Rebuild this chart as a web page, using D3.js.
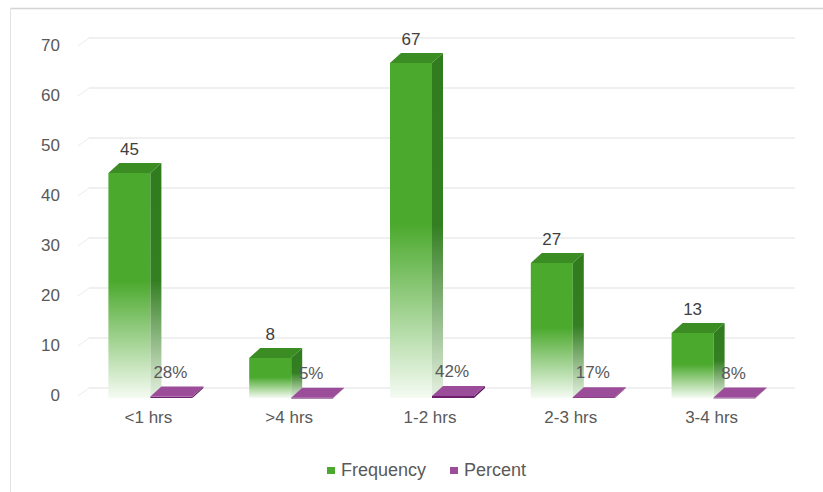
<!DOCTYPE html>
<html>
<head>
<meta charset="utf-8">
<script src="https://cdn.jsdelivr.net/npm/d3@7/dist/d3.min.js"></script>
<style>
  html, body { margin: 0; padding: 0; background: #ffffff; }
  svg { display: block; font-family: "Liberation Sans", Arial, sans-serif; }
</style>
</head>
<body>
<svg id="chart" width="823" height="492"></svg>
<script>
// Daily usage by time band
const categories = ["<1 hrs", ">4 hrs", "1-2 hrs", "2-3 hrs", "3-4 hrs"];
const frequency = [45, 8, 67, 27, 13];
const percent = [0.28, 0.05, 0.42, 0.17, 0.08];
const percentLabels = ["28%", "5%", "42%", "17%", "8%"];
const series = ["Frequency", "Percent"];
const yTicks = [0, 10, 20, 30, 40, 50, 60, 70];

const svg = d3.select("#chart");
const W = 823, H = 492;

// 3D depth offset for the back wall
const DX = 11, DY = -10;

const x = d3.scaleBand().domain(categories).range([80, 784]).padding(0);
const xs = d3.scaleBand().domain(series).range([0, x.bandwidth()])
  .paddingInner(0).paddingOuter(0.676);
const y = d3.scaleLinear().domain([0, 70]).range([398, 48]);

// gradients for the green columns
const defs = svg.append("defs");
const gFront = defs.append("linearGradient").attr("id", "gFront")
  .attr("x1", 0).attr("y1", 0).attr("x2", 0).attr("y2", 1);
gFront.append("stop").attr("offset", 0).attr("stop-color", "#4ba92d");
gFront.append("stop").attr("offset", 0.48).attr("stop-color", "#4ba92d");
gFront.append("stop").attr("offset", 1).attr("stop-color", "#f5fbf3");
const gSide = defs.append("linearGradient").attr("id", "gSide")
  .attr("x1", 0).attr("y1", 0).attr("x2", 0).attr("y2", 1);
gSide.append("stop").attr("offset", 0).attr("stop-color", "#2f7b1e");
gSide.append("stop").attr("offset", 0.5).attr("stop-color", "#347f22");
gSide.append("stop").attr("offset", 1).attr("stop-color", "#e6f1e2");

// chart frame
svg.append("line").attr("x1", 10).attr("x2", W).attr("y1", 8.5).attr("y2", 8.5)
  .attr("stroke", "#d4d4d4").attr("stroke-width", 1.5);
svg.append("line").attr("x1", 10.5).attr("x2", 10.5).attr("y1", 8).attr("y2", H)
  .attr("stroke", "#e2e2e2").attr("stroke-width", 1);

// back wall gridlines + side wall diagonals
const x0 = x.range()[0], x1 = x.range()[1];
const grid = svg.append("g");
grid.selectAll("line.back").data(yTicks).join("line").attr("class", "back")
  .attr("x1", x0 + DX - 2).attr("x2", x1 + DX)
  .attr("y1", d => y(d) + DY).attr("y2", d => y(d) + DY)
  .attr("stroke", "#ebebeb").attr("stroke-width", 1.5);
grid.selectAll("line.side").data(yTicks).join("line").attr("class", "side")
  .attr("x1", x0 - 2).attr("x2", x0 + DX - 2)
  .attr("y1", d => y(d) - 2).attr("y2", d => y(d) + DY)
  .attr("stroke", "#ececec").attr("stroke-width", 1);

// y axis labels
const yAxis = svg.append("g").attr("transform", "translate(60,-3)")
  .call(d3.axisLeft(y).tickValues(yTicks).tickSize(0).tickPadding(0));
yAxis.select(".domain").remove();
yAxis.selectAll("text").attr("fill", "#595959").style("font-size", "17px")
  .style("font-family", "'Liberation Sans', Arial, sans-serif");

// x axis labels
const xAxis = svg.append("g").attr("transform", "translate(-2,411)")
  .call(d3.axisBottom(x).tickSize(0).tickPadding(0));
xAxis.select(".domain").remove();
xAxis.selectAll("text").attr("fill", "#595959").style("font-size", "17px")
  .style("font-family", "'Liberation Sans', Arial, sans-serif");

// 3D column helper
function column(g, left, w, v, colors) {
  const yt = y(v), yb = y(0);
  const pts = a => a.map(p => p.join(",")).join(" ");
  g.append("rect").attr("x", left).attr("y", yt).attr("width", w)
    .attr("height", Math.max(yb - yt, 0.8)).attr("fill", colors.front);
  g.append("polygon").attr("points", pts([[left + w, yt], [left + w + DX, yt + DY],
    [left + w + DX, yb + DY], [left + w, yb]])).attr("fill", colors.side);
  g.append("polygon").attr("points", pts([[left, yt], [left + w, yt],
    [left + w + DX, yt + DY], [left + DX, yt + DY]])).attr("fill", colors.top);
}

const bars = svg.append("g");
categories.forEach((c, i) => {
  column(bars, x(c) + xs("Frequency"), xs.bandwidth(), frequency[i],
    { front: "url(#gFront)", side: "url(#gSide)", top: "#3c8c24" });
});
categories.forEach((c, i) => {
  column(bars, x(c) + xs("Percent"), xs.bandwidth(), percent[i],
    { front: "#6e1f6c", side: "#5a1658", top: "#9b4d9a" });
});

// percent value labels
svg.append("g").selectAll("text").data(categories).join("text")
  .attr("x", (c) => x(c) + xs("Percent") + xs.bandwidth() / 2 - 1)
  .attr("y", (c, i) => y(percent[i]) - 19)
  .attr("text-anchor", "middle").attr("fill", "#595959").style("font-size", "17px")
  .text((c, i) => percentLabels[i]);

// frequency value labels
svg.append("g").selectAll("text").data(categories).join("text")
  .attr("x", c => x(c) + xs("Frequency") + xs.bandwidth() / 2)
  .attr("y", (c, i) => y(frequency[i]) - 18)
  .attr("text-anchor", "middle").attr("fill", "#404040").style("font-size", "17px")
  .text((c, i) => frequency[i]);

// legend
const legend = svg.append("g").attr("transform", "translate(327,470)");
const legendColors = ["#4ba92d", "#9b4d9a"];
const legendX = [0, 123];
series.forEach((s, i) => {
  legend.append("rect").attr("x", legendX[i]).attr("y", -3).attr("width", 8).attr("height", 7)
    .attr("fill", legendColors[i]);
  legend.append("text").attr("x", legendX[i] + 14).attr("y", 6)
    .attr("fill", "#595959").style("font-size", "18px").text(s);
});
</script>
</body>
</html>
